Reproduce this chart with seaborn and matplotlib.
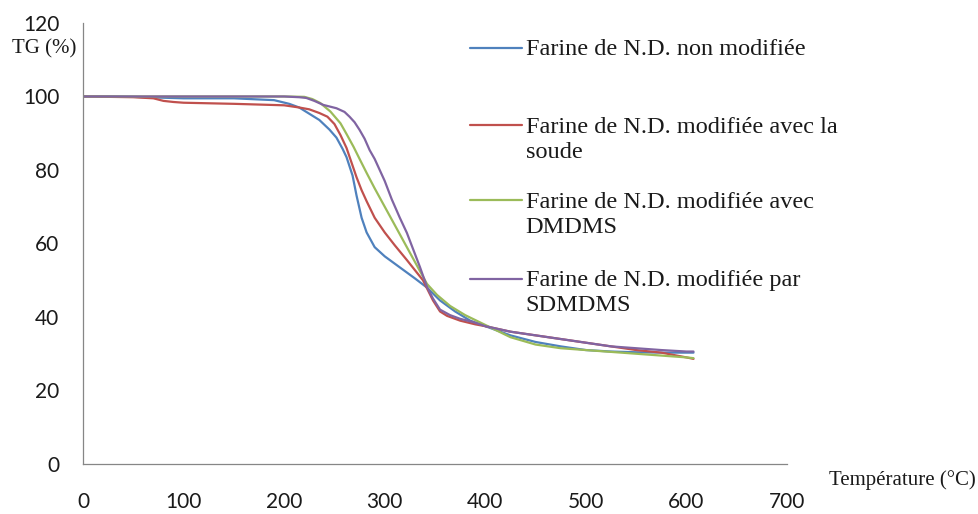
import numpy as np
import pandas as pd
import seaborn as sns
import matplotlib.pyplot as plt
from matplotlib.lines import Line2D

# --- DATA ---
series_names = [
    "Farine de N.D. non modifiée",
    "Farine de N.D. modifiée avec la\nsoude",
    "Farine de N.D. modifiée avec\nDMDMS",
    "Farine de N.D. modifiée par\nSDMDMS",
]
colors = ["#4F81BD", "#C0504D", "#9BBB59", "#8064A2"]

t_blue = [0, 25, 50, 75, 100, 150, 190, 205, 215, 225, 235, 245, 252, 258, 262, 268, 272,
          277, 282, 290, 300, 315, 330, 342, 355, 370, 385, 400, 425, 450, 475, 500, 525,
          550, 575, 600, 607]
tg_blue = [100, 100, 99.9, 99.7, 99.5, 99.5, 99.0, 98.0, 97.0, 95.3, 93.6, 91.0, 88.8, 85.8,
           83.5, 78.5, 73.0, 67.0, 63.0, 59.0, 56.5, 53.5, 50.5, 48.0, 44.5, 41.5, 39.0, 37.5,
           35.0, 33.2, 32.0, 31.0, 30.6, 30.4, 30.3, 30.3, 30.3]

t_red = [0, 50, 70, 80, 90, 100, 150, 200, 215, 225, 235, 243, 250, 256, 262, 267, 272, 277,
         282, 290, 300, 310, 322, 338, 348, 355, 362, 375, 390, 400, 425, 450, 475, 500, 525,
         550, 575, 600, 607]
tg_red = [100, 99.8, 99.5, 98.8, 98.5, 98.3, 98.0, 97.6, 97.0, 96.5, 95.5, 94.5, 92.5, 89.5,
          86.0, 82.0, 78.0, 74.5, 71.5, 67.0, 63.0, 59.5, 55.5, 50.0, 44.5, 41.5, 40.3, 39.0,
          38.0, 37.5, 36.0, 35.0, 34.0, 33.0, 32.0, 31.0, 30.3, 29.0, 28.6]

t_green = [0, 100, 200, 220, 228, 236, 246, 256, 262, 269, 275, 282, 290, 295, 300, 308, 316,
           325, 334, 342, 352, 365, 380, 395, 410, 425, 450, 475, 500, 525, 550, 575, 600, 607]
tg_green = [100, 100, 100, 99.9, 99.3, 98.2, 95.9, 92.7, 89.8, 86.3, 83.0, 79.2, 75.0, 72.5,
            70.0, 66.0, 62.0, 57.5, 53.0, 49.0, 46.0, 43.0, 40.5, 38.5, 36.5, 34.5, 32.5, 31.5,
            31.0, 30.5, 30.0, 29.5, 29.0, 28.8]

t_purple = [0, 100, 200, 215, 222, 230, 239, 252, 260, 265, 270, 275, 280, 285, 290, 295, 300,
            307, 315, 322, 335, 342, 348, 355, 365, 375, 388, 400, 425, 450, 475, 500, 525, 550,
            575, 600, 607]
tg_purple = [100, 100, 100, 99.8, 99.6, 98.8, 97.7, 96.8, 95.8, 94.5, 93.0, 90.9, 88.5, 85.4,
             83.0, 80.0, 77.0, 72.0, 67.0, 62.9, 53.6, 48.2, 45.0, 42.0, 40.5, 39.5, 38.6, 37.5,
             36.0, 35.0, 34.0, 33.0, 32.0, 31.5, 31.0, 30.6, 30.6]

x_ticks = [0, 100, 200, 300, 400, 500, 600, 700]
y_ticks = [0, 20, 40, 60, 80, 100, 120]

# --- TABLE LONGUE ---
frames = []
for name, t, tg in zip(series_names,
                       [t_blue, t_red, t_green, t_purple],
                       [tg_blue, tg_red, tg_green, tg_purple]):
    frames.append(pd.DataFrame({"T": t, "TG": tg, "serie": name}))
df = pd.concat(frames, ignore_index=True)

# --- FIGURE ---
sns.set_style("white")
plt.rcParams["font.family"] = ["Lato", "DejaVu Sans"]

fig = plt.figure(figsize=(9.79, 5.14), dpi=100)
ax = fig.add_axes([0.0848, 0.0973, 0.7191, 0.858])

sns.lineplot(data=df, x="T", y="TG", hue="serie", hue_order=series_names,
             palette=colors, sort=False, linewidth=1.6, legend=False, ax=ax)

ax.set_xlim(0, 700)
ax.set_ylim(0, 120)
ax.set_xticks(x_ticks)
ax.set_yticks(y_ticks)
ax.set_xlabel("")
ax.set_ylabel("")

grey = "#868686"
for side in ["top", "right"]:
    ax.spines[side].set_visible(False)
for side in ["left", "bottom"]:
    ax.spines[side].set_color(grey)
    ax.spines[side].set_linewidth(0.9)
ax.tick_params(axis="both", direction="out", length=6, width=0.9, color=grey,
               labelsize=15, labelcolor="#1a1a1a")
ax.tick_params(axis="y", pad=11)
ax.tick_params(axis="x", pad=14)

serif = ["Liberation Serif", "DejaVu Serif"]
fig.text(0.012, 0.905, "TG (%)", family=serif, fontsize=15, color="#1a1a1a",
         ha="left", va="center")
fig.text(0.997, 0.066, "Température (°C)", family=serif, fontsize=15, color="#1a1a1a",
         ha="right", va="center")

# légende à la façon d'Excel : trait aligné sur la première ligne
leg_y = [0.907, 0.756, 0.610, 0.458]
for name, c, y in zip(series_names, colors, leg_y):
    fig.add_artist(Line2D([0.480, 0.533], [y, y], color=c, linewidth=1.6,
                          transform=fig.transFigure))
    if "\n" in name:
        fig.text(0.537, y + 0.017, name, family=serif, fontsize=17.5, color="#1a1a1a",
                 ha="left", va="top", linespacing=1.28)
    else:
        fig.text(0.537, y - 0.003, name, family=serif, fontsize=17.5, color="#1a1a1a",
                 ha="left", va="center")

fig.savefig("out.png", dpi=100)
